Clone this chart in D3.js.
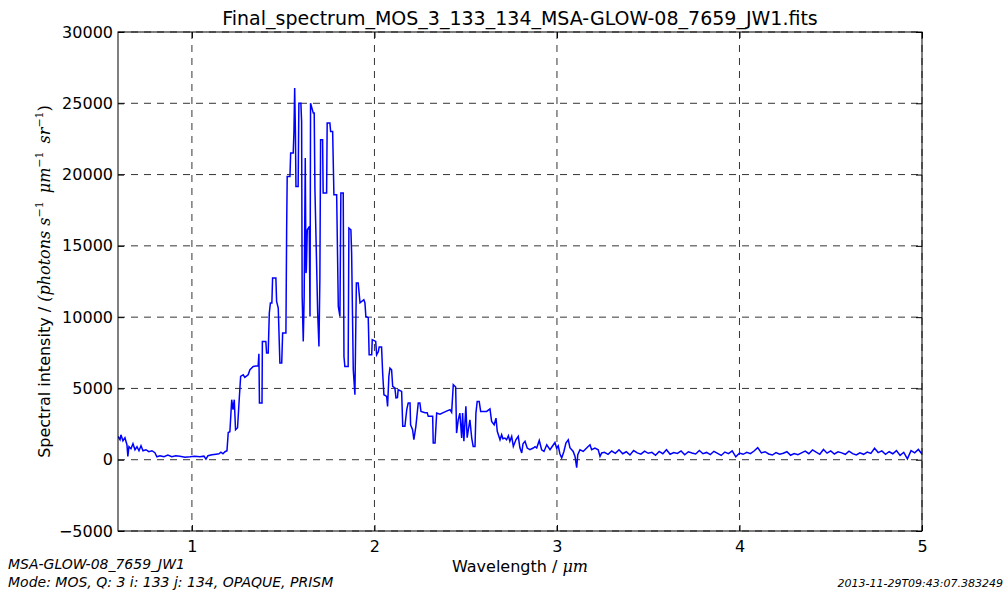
<!DOCTYPE html>
<html><head><meta charset="utf-8">
<script src="https://cdn.jsdelivr.net/npm/d3@7"></script>
<style>
body{margin:0;background:#fff;}
text{font-family:"DejaVu Sans",sans-serif;}
</style></head>
<body><svg id="c" width="1008" height="597"></svg>
<script>
const title = "Final_spectrum_MOS_3_133_134_MSA-GLOW-08_7659_JW1.fits";
const xTicks = [1, 2, 3, 4, 5];
const yTicks = [-5000, 0, 5000, 10000, 15000, 20000, 25000, 30000];
const xDomain = [0.595, 5.0];
const yDomain = [-5000, 30000];
const footLeft = ["MSA-GLOW-08_7659_JW1", "Mode: MOS, Q: 3 i: 133 j: 134, OPAQUE, PRISM"];
const footRight = "2013-11-29T09:43:07.383249";

// wavelength (um) and spectral intensity
const wavelength = [
0.595,0.606,0.611,0.622,0.633,0.644,0.649,0.655,0.666,0.677,0.688,0.699,0.710,0.721,0.732,0.748,0.764,0.781,0.797,0.808,
0.825,0.847,0.868,0.890,0.912,0.934,0.962,0.989,1.016,1.044,1.066,1.077,1.088,1.110,1.132,1.148,1.159,1.170,1.181,1.192,
1.199,1.208,1.218,1.225,1.232,1.239,1.250,1.259,1.267,1.281,1.290,1.308,1.318,1.336,1.363,1.367,1.370,1.384,1.386,1.405,
1.409,1.418,1.424,1.430,1.438,1.442,1.460,1.464,1.473,1.482,1.492,1.497,1.515,1.519,1.522,1.537,1.541,1.555,1.559,1.563,
1.567,1.570,1.582,1.586,1.597,1.601,1.604,1.610,1.615,1.621,1.625,1.627,1.632,1.643,1.647,1.650,1.665,1.670,1.674,1.689,
1.696,1.701,1.705,1.716,1.719,1.738,1.741,1.756,1.760,1.771,1.778,1.793,1.802,1.811,1.816,1.829,1.833,1.838,1.856,1.860,
1.871,1.875,1.884,1.893,1.901,1.911,1.921,1.942,1.948,1.953,1.966,1.971,1.985,1.988,2.007,2.012,2.021,2.026,2.039,2.045,
2.052,2.067,2.072,2.079,2.085,2.094,2.100,2.112,2.118,2.126,2.130,2.149,2.155,2.167,2.177,2.185,2.195,2.198,2.209,2.216,
2.227,2.240,2.249,2.255,2.277,2.289,2.295,2.319,2.322,2.332,2.341,2.359,2.377,2.392,2.414,2.423,2.432,2.445,2.450,2.459,
2.468,2.478,2.483,2.490,2.501,2.508,2.523,2.533,2.541,2.551,2.556,2.563,2.574,2.582,2.615,2.633,2.642,2.656,2.666,2.673,
2.688,2.697,2.704,2.715,2.724,2.734,2.742,2.752,2.761,2.775,2.788,2.797,2.807,2.814,2.825,2.837,2.852,2.870,2.880,2.889,
2.903,2.916,2.929,2.944,2.962,2.973,2.989,2.998,3.007,3.016,3.026,3.038,3.049,3.062,3.071,3.089,3.099,3.108,3.114,3.126,
3.144,3.153,3.171,3.181,3.190,3.208,3.226,3.236,3.245,
3.26,3.28,3.30,3.32,3.34,3.36,3.38,3.40,3.42,3.44,3.46,3.48,3.50,3.52,3.54,3.56,3.58,3.60,3.62,3.64,
3.66,3.68,3.70,3.72,3.74,3.76,3.78,3.80,3.82,3.84,3.86,3.88,3.90,3.92,3.94,3.96,3.98,4.00,4.02,4.04,
4.06,4.08,4.10,4.12,4.14,4.16,4.18,4.20,4.22,4.24,4.26,4.28,4.30,4.32,4.34,4.36,4.38,4.40,4.42,4.44,
4.46,4.48,4.50,4.52,4.54,4.56,4.58,4.60,4.62,4.64,4.66,4.68,4.70,4.72,4.74,4.76,4.78,4.80,4.82,4.84,
4.86,4.88,4.90,4.92,4.94,4.96,4.98,5.00
];
const intensity = [
1630,1400,1750,1330,1540,1050,230,910,770,1120,700,910,630,980,630,700,560,630,490,210,
280,210,320,210,280,250,180,210,250,210,250,40,280,350,390,420,530,420,560,630,
1910,1960,4210,3510,4210,2100,2240,4210,5840,5960,5770,5960,6310,6540,6590,7430,3980,3980,8300,8300,
7480,7480,10290,11000,11000,12740,12740,11100,10640,6780,6780,8880,8880,16130,19870,19870,21510,21510,23020,26070,
23020,19170,19170,25010,25010,23720,11450,8300,11450,21160,13090,13320,16130,16340,10050,25010,24310,24310,18940,10310,
7950,12620,22440,22440,18700,18700,23610,23610,23020,23020,18580,18580,10750,10050,18700,18700,7240,6540,6540,16250,
16130,14500,6310,4560,12390,12390,11000,11220,11000,10050,9960,7360,7360,8420,8300,7360,7570,7900,7900,6080,
4560,4440,3740,5840,6430,6310,5140,5030,4330,4350,4910,4790,2340,2340,3510,3980,3980,2450,2100,1400,
2340,3980,3980,3390,3300,3300,3040,3040,1170,1170,3270,3190,3300,3390,3510,3320,5260,5100,1870,2800,
3270,1520,3270,1290,3740,1540,2800,1520,930,930,3270,4090,4090,3390,3390,3560,2690,2450,2920,1990,
1400,1750,1470,1520,1400,1680,1290,1640,930,1400,1640,840,470,1120,1290,820,700,820,910,820,
1350,700,580,1050,700,910,1210,820,980,420,120,580,1170,1400,840,580,230,-560,350,700,
580,700,930,1050,700,820,700,230,470,
520,380,610,450,700,420,560,330,640,480,390,600,450,520,310,580,420,700,380,500,
440,620,350,560,470,400,650,420,510,360,590,450,300,540,430,620,200,470,380,520,
420,610,850,480,560,400,330,500,380,450,560,310,430,350,480,600,420,690,530,380,
720,460,620,400,550,480,380,600,430,330,480,380,540,440,800,500,620,380,560,420,
640,300,520,60,640,480,720,400
];

const svg = d3.select("#c");
const m = {l:118, t:32, r:922, b:531};
const x = d3.scaleLinear().domain(xDomain).range([m.l, m.r]);
const y = d3.scaleLinear().domain(yDomain).range([m.b, m.t]);

// grid
const grid = svg.append("g").attr("stroke","#000").attr("stroke-width",0.8).attr("stroke-dasharray","7,6");
xTicks.forEach(t => grid.append("line").attr("x1",x(t)).attr("x2",x(t)).attr("y1",m.t).attr("y2",m.b));
yTicks.forEach(t => grid.append("line").attr("x1",m.l).attr("x2",m.r).attr("y1",y(t)).attr("y2",y(t)));

// data line
const pts = wavelength.map((w,i)=>[w, intensity[i]]);
svg.append("clipPath").attr("id","cp").append("rect")
  .attr("x",m.l).attr("y",m.t).attr("width",m.r-m.l).attr("height",m.b-m.t);
svg.append("path").datum(pts)
  .attr("clip-path","url(#cp)")
  .attr("fill","none").attr("stroke","#0000ff").attr("stroke-width",1.5)
  .attr("d", d3.line().x(d=>x(d[0])).y(d=>y(d[1])));

// axes
const fmt = d => d < 0 ? "\u2212" + Math.abs(d) : String(d);
const axB = svg.append("g").attr("transform",`translate(0,${m.b})`)
  .call(d3.axisBottom(x).tickValues(xTicks).tickSizeInner(-6).tickSizeOuter(0).tickPadding(10).tickFormat(fmt));
const axT = svg.append("g").attr("transform",`translate(0,${m.t})`)
  .call(d3.axisTop(x).tickValues(xTicks).tickSizeInner(-6).tickSizeOuter(0).tickFormat(""));
const axL = svg.append("g").attr("transform",`translate(${m.l},0)`)
  .call(d3.axisLeft(y).tickValues(yTicks).tickSizeInner(-6).tickSizeOuter(0).tickPadding(5).tickFormat(fmt));
const axR = svg.append("g").attr("transform",`translate(${m.r},0)`)
  .call(d3.axisRight(y).tickValues(yTicks).tickSizeInner(-6).tickSizeOuter(0).tickFormat(""));
[axB,axT,axL,axR].forEach(a=>{
  a.select(".domain").remove();
  a.selectAll("line").attr("stroke","#000");
  a.selectAll("text").attr("font-size",16).attr("font-family","DejaVu Sans").attr("fill","#000");
});
axB.selectAll("text").attr("dy","0.71em");

// frame
svg.append("rect").attr("x",m.l).attr("y",m.t).attr("width",m.r-m.l).attr("height",m.b-m.t)
  .attr("fill","none").attr("stroke","#000").attr("stroke-width",1);

// title
svg.append("text").attr("x",(m.l+m.r)/2).attr("y",25).attr("text-anchor","middle")
  .attr("font-size",19).text(title);

// x label
const xl = svg.append("text").attr("x",(m.l+m.r)/2).attr("y",572).attr("text-anchor","middle").attr("font-size",16);
xl.append("tspan").text("Wavelength / ");
xl.append("tspan").attr("font-family","DejaVu Serif").attr("font-style","italic").text("\u03bcm");

// y label
const yl = svg.append("text").attr("transform",`translate(50,${(m.t+m.b)/2}) rotate(-90)`)
  .attr("text-anchor","middle").attr("font-size",16);
yl.append("tspan").text("Spectral intensity / ");
const mi = (t)=>yl.append("tspan").attr("font-family","DejaVu Serif").attr("font-style","italic").text(t);
const sup = (t)=>yl.append("tspan").attr("font-family","DejaVu Serif").attr("font-size",11).attr("dy",-7).text(t);
const down = (t)=>yl.append("tspan").attr("font-family","DejaVu Serif").attr("font-style","italic").attr("dy",7).text(t);
mi("(photons s");
sup("\u22121");
down("\u2002\u03bcm");
sup("\u22121");
down("\u2002sr");
sup("\u22121");
yl.append("tspan").attr("font-family","DejaVu Serif").attr("dy",7).text(")");

// footer
svg.append("text").attr("x",8).attr("y",569).attr("font-size",14).attr("font-style","italic").text(footLeft[0]);
svg.append("text").attr("x",8).attr("y",587).attr("font-size",14).attr("font-style","italic").text(footLeft[1]);
svg.append("text").attr("x",1003).attr("y",587).attr("text-anchor","end").attr("font-size",11).attr("font-style","italic").text(footRight);
</script></body></html>
